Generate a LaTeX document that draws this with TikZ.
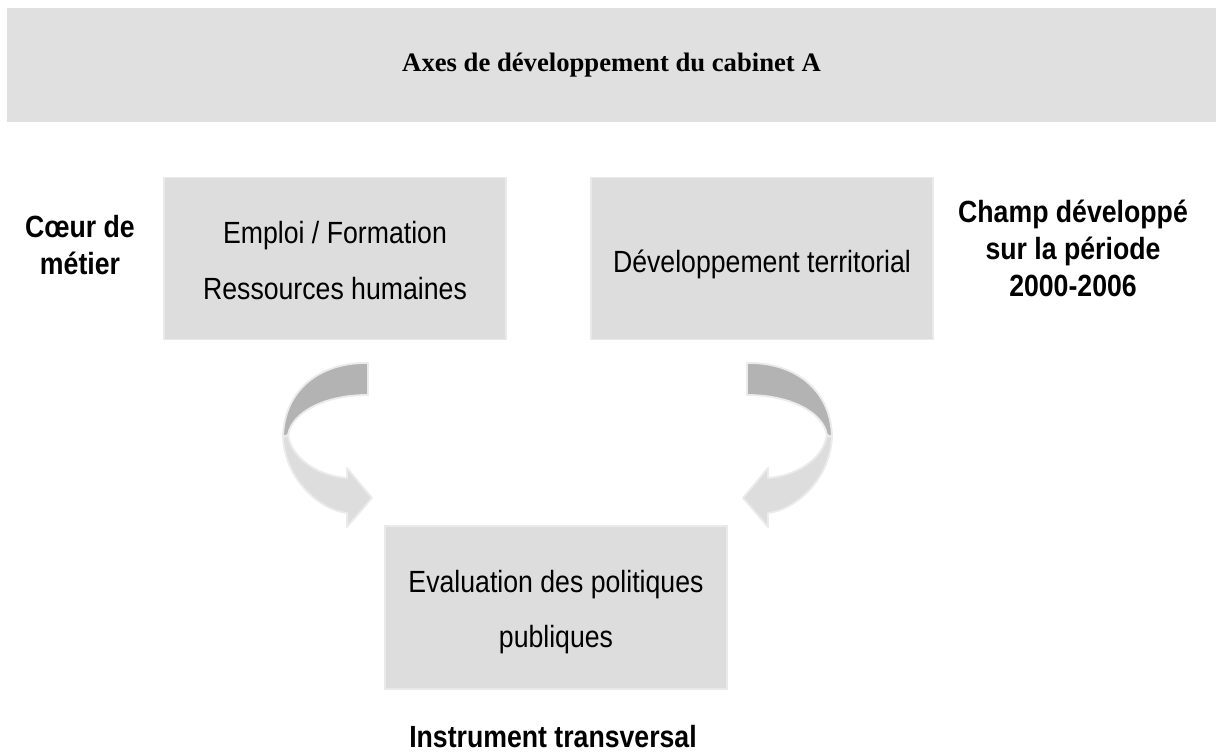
\documentclass[tikz,border=0pt]{standalone}
\usepackage{fontspec}
\setmainfont{Liberation Serif}
\newfontfamily\arialfont{Liberation Sans}
\definecolor{titlegray}{HTML}{E0E0E0}
\definecolor{boxgray}{HTML}{DCDDDC}
\definecolor{boxedge}{HTML}{EAEAEA}
\definecolor{darkband}{HTML}{B3B3B3}
\definecolor{lightband}{HTML}{DDDDDD}
\definecolor{bandedge}{HTML}{EBEBEB}
\newcommand{\talltext}[1]{\scalebox{1}[1.15]{#1}}
\begin{document}
\begin{tikzpicture}[x=0.75pt,y=-0.75pt,
  titlebar/.style={fill=titlegray, draw=none, inner sep=0pt, outer sep=0pt,
    minimum width=906.75pt, minimum height=85.5pt,
    font=\bfseries\fontsize{20}{24}\selectfont},
  box/.style={draw=boxedge, fill=boxgray, line width=1pt, inner sep=0pt, outer sep=0pt,
    minimum width=256.5pt, minimum height=121.5pt},
  lbl/.style={font=\arialfont\fontsize{20}{24}\selectfont, anchor=base, inner sep=0pt},
  blbl/.style={font=\arialfont\bfseries\fontsize{20}{24}\selectfont, anchor=base, inner sep=0pt},
  darkpart/.style={fill=darkband, draw=bandedge, line width=1.4pt, line join=round},
  lightpart/.style={fill=lightband, draw=bandedge, line width=1.4pt, line join=round}
]
\useasboundingbox (0,0) rectangle (1216,755);

% title
\node[titlebar] (title) at (611.5,65) {Axes de développement du cabinet A};

% boxes
\node[box] (b1) at (335,258.5) {};
\node[box] (b2) at (762,258.5) {};
\node[box, minimum height=122.25pt] (b3) at (556,607.5) {};

% box texts
\node[lbl] (t1a) at (335,244) {\talltext{Emploi / Formation}};
\node[lbl] (t1b) at (335,300) {\talltext{Ressources humaines}};
\node[lbl] (t2) at (762,273) {\talltext{Développement territorial}};
\node[lbl] (t3a) at (556,592) {\talltext{Evaluation des politiques}};
\node[lbl] (t3b) at (556,647) {\talltext{publiques}};

% side labels
\node[blbl] (l1a) at (80,238) {\talltext{Cœur de}};
\node[blbl] (l1b) at (80,275) {\talltext{métier}};
\node[blbl] (r1a) at (1073,223) {\talltext{Champ développé}};
\node[blbl] (r1b) at (1073,260) {\talltext{sur la période}};
\node[blbl] (r1c) at (1073,297) {\talltext{2000-2006}};
\node[blbl] (bot) at (553,747) {\talltext{Instrument transversal}};

% left curved arrow
\path[lightpart] (283,437) .. controls (285,480) and (320,510) .. (347,513)
  -- (347,527) -- (372,498) -- (347,468) -- (347,478)
  .. controls (320,476) and (292,460) .. (288,435) -- cycle;
\path[darkpart] (368,363) .. controls (320,362) and (284,390) .. (283,437)
  -- (288,435) .. controls (292,412) and (325,395) .. (368,395) -- cycle;

% right curved arrow (mirror)
\begin{scope}[shift={(1115,0)}, xscale=-1]
\path[lightpart] (283,437) .. controls (285,480) and (320,510) .. (347,513)
  -- (347,527) -- (372,498) -- (347,468) -- (347,478)
  .. controls (320,476) and (292,460) .. (288,435) -- cycle;
\path[darkpart] (368,363) .. controls (320,362) and (284,390) .. (283,437)
  -- (288,435) .. controls (292,412) and (325,395) .. (368,395) -- cycle;
\end{scope}
\end{tikzpicture}
\end{document}
